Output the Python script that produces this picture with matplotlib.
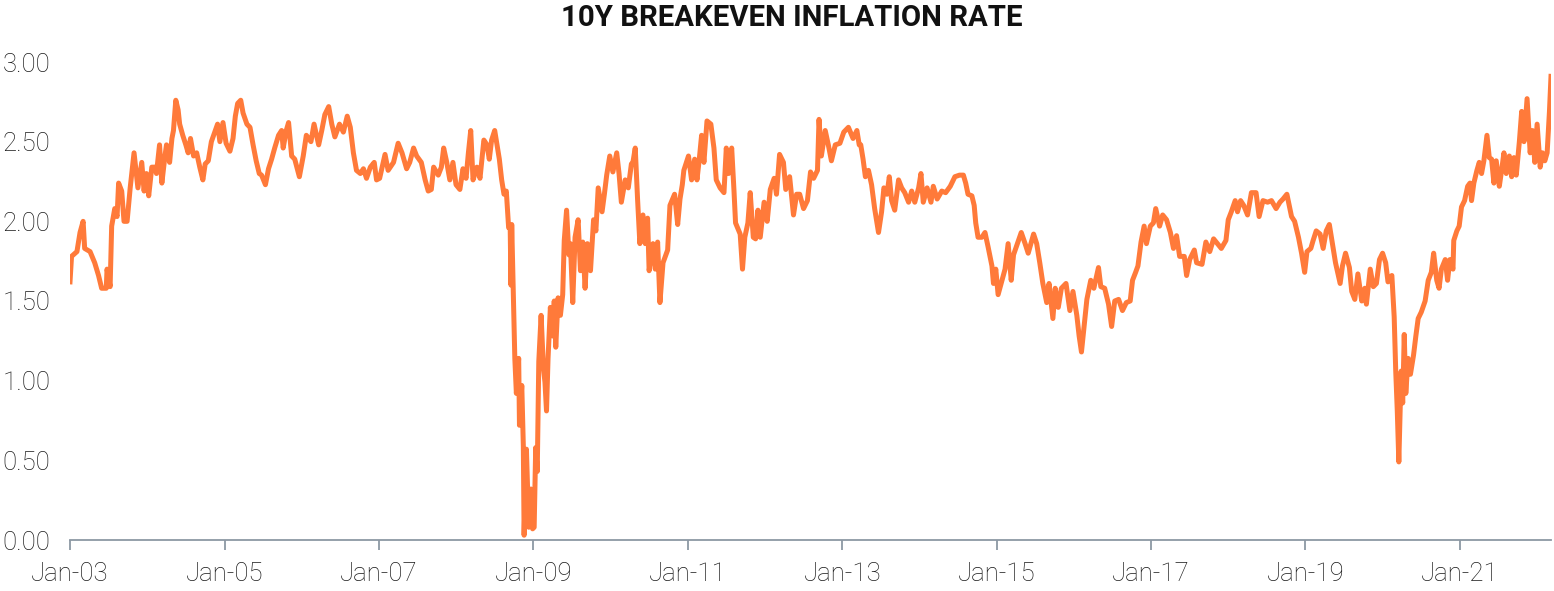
import matplotlib
matplotlib.use("Agg")
import matplotlib.pyplot as plt
import matplotlib.dates as mdates
import pandas as pd
from datetime import datetime

# dates as decimal years, values in %
years = [
    2003.00, 2003.02, 2003.09, 2003.13, 2003.17, 2003.19, 2003.26, 2003.32, 2003.37, 2003.41,
    2003.47, 2003.48, 2003.52, 2003.54, 2003.58, 2003.61, 2003.63, 2003.67, 2003.70, 2003.74,
    2003.78, 2003.83, 2003.86, 2003.88, 2003.93, 2003.96, 2003.99, 2004.02, 2004.06, 2004.10,
    2004.12, 2004.16, 2004.19, 2004.23, 2004.25, 2004.29, 2004.32, 2004.34, 2004.37, 2004.40,
    2004.42, 2004.46, 2004.50, 2004.53, 2004.56, 2004.60, 2004.64, 2004.68, 2004.72, 2004.75,
    2004.79, 2004.83, 2004.88, 2004.91, 2004.94, 2004.98, 2005.02, 2005.07, 2005.11, 2005.14,
    2005.17, 2005.21, 2005.24, 2005.29, 2005.33, 2005.37, 2005.41, 2005.45, 2005.48, 2005.53,
    2005.57, 2005.61, 2005.65, 2005.70, 2005.74, 2005.76, 2005.80, 2005.83, 2005.87, 2005.91,
    2005.97,
    2006.02, 2006.06, 2006.12, 2006.16, 2006.22, 2006.26, 2006.30, 2006.35, 2006.39, 2006.43,
    2006.49, 2006.54, 2006.59, 2006.63, 2006.67, 2006.71, 2006.76, 2006.80, 2006.84, 2006.89,
    2006.94, 2006.97, 2007.01, 2007.08, 2007.12, 2007.19, 2007.25, 2007.30, 2007.36, 2007.40,
    2007.45, 2007.49, 2007.55, 2007.60, 2007.64, 2007.68, 2007.71, 2007.77, 2007.81, 2007.84,
    2007.88, 2007.92, 2007.96, 2008.00, 2008.05, 2008.09, 2008.13, 2008.16, 2008.19, 2008.22,
    2008.27, 2008.31, 2008.36, 2008.40, 2008.43, 2008.46, 2008.50, 2008.53, 2008.56, 2008.59,
    2008.62, 2008.65, 2008.68, 2008.70, 2008.71, 2008.72, 2008.74, 2008.76, 2008.78, 2008.81,
    2008.82, 2008.85, 2008.87, 2008.88, 2008.91, 2008.94, 2008.97, 2008.99, 2009.01, 2009.03,
    2009.05, 2009.07, 2009.10, 2009.13, 2009.15, 2009.17, 2009.19, 2009.22, 2009.25, 2009.27,
    2009.29, 2009.32, 2009.35, 2009.38, 2009.40, 2009.43, 2009.46, 2009.48, 2009.51, 2009.54,
    2009.58,
    2009.61, 2009.64, 2009.67, 2009.70, 2009.74, 2009.78, 2009.81, 2009.84, 2009.89, 2009.92,
    2009.95, 2009.99, 2010.03, 2010.08, 2010.11, 2010.14, 2010.19, 2010.23, 2010.27, 2010.29,
    2010.32, 2010.35, 2010.38, 2010.42, 2010.45, 2010.48, 2010.50, 2010.55, 2010.58, 2010.61,
    2010.64, 2010.68, 2010.74, 2010.77, 2010.83, 2010.87, 2010.90, 2010.93, 2010.95, 2011.01,
    2011.05, 2011.09, 2011.12, 2011.15, 2011.18, 2011.21, 2011.25, 2011.30, 2011.34, 2011.37,
    2011.42, 2011.47, 2011.50, 2011.53, 2011.57, 2011.60, 2011.62, 2011.68, 2011.71, 2011.74,
    2011.78, 2011.81, 2011.85, 2011.88, 2011.91, 2011.94, 2011.99, 2012.03, 2012.07, 2012.12,
    2012.15, 2012.19, 2012.24, 2012.27, 2012.32, 2012.37, 2012.41, 2012.45, 2012.50, 2012.55,
    2012.59, 2012.63, 2012.68, 2012.70, 2012.73, 2012.78, 2012.82, 2012.86, 2012.91, 2012.97,
    2013.02, 2013.08, 2013.14, 2013.19, 2013.22,
    2013.24, 2013.27, 2013.30, 2013.34, 2013.38, 2013.42, 2013.47, 2013.51, 2013.54, 2013.58,
    2013.61, 2013.64, 2013.68, 2013.73, 2013.77, 2013.81, 2013.86, 2013.90, 2013.94, 2013.99,
    2014.02, 2014.05, 2014.10, 2014.15, 2014.18, 2014.23, 2014.29, 2014.34, 2014.40, 2014.46,
    2014.52, 2014.57, 2014.60, 2014.63, 2014.68, 2014.71, 2014.73, 2014.76, 2014.81, 2014.85,
    2014.89, 2014.94, 2014.96, 2014.99, 2015.02, 2015.07, 2015.11, 2015.15, 2015.19, 2015.22,
    2015.27, 2015.32, 2015.37, 2015.41, 2015.48, 2015.52, 2015.56, 2015.60, 2015.65, 2015.68,
    2015.73, 2015.76, 2015.80, 2015.84, 2015.90, 2015.95, 2015.99, 2016.04, 2016.07, 2016.10,
    2016.14, 2016.17, 2016.22, 2016.26, 2016.32, 2016.35, 2016.40, 2016.45, 2016.49, 2016.53,
    2016.58, 2016.63, 2016.68, 2016.73, 2016.76, 2016.80, 2016.83,
    2016.87, 2016.91, 2016.94, 2016.99, 2017.03, 2017.06, 2017.11, 2017.15, 2017.20, 2017.25,
    2017.29, 2017.33, 2017.37, 2017.43, 2017.46, 2017.50, 2017.56, 2017.59, 2017.66, 2017.71,
    2017.76, 2017.81, 2017.86, 2017.91, 2017.97, 2018.00, 2018.04, 2018.09, 2018.12, 2018.16,
    2018.20, 2018.25, 2018.30, 2018.36, 2018.40, 2018.45, 2018.51, 2018.56, 2018.62, 2018.67,
    2018.71, 2018.76, 2018.79, 2018.82, 2018.86, 2018.91, 2018.95, 2018.99, 2019.02, 2019.07,
    2019.10, 2019.14, 2019.19, 2019.23, 2019.27, 2019.31, 2019.35, 2019.39, 2019.45, 2019.48,
    2019.52, 2019.57, 2019.60, 2019.64, 2019.68, 2019.73, 2019.77, 2019.79, 2019.84, 2019.88,
    2019.92, 2019.96, 2020.00, 2020.04, 2020.07, 2020.12, 2020.15, 2020.17, 2020.19, 2020.21,
    2020.24, 2020.26, 2020.28, 2020.30, 2020.33, 2020.36, 2020.40, 2020.43, 2020.46,
    2020.50, 2020.55, 2020.59, 2020.63, 2020.66, 2020.70, 2020.73, 2020.76, 2020.81, 2020.84,
    2020.87, 2020.91, 2020.92, 2020.96, 2020.99, 2021.02, 2021.06, 2021.10, 2021.13, 2021.15,
    2021.18, 2021.22, 2021.25, 2021.28, 2021.31, 2021.35, 2021.38, 2021.41, 2021.44, 2021.47,
    2021.51, 2021.54, 2021.57, 2021.60, 2021.64, 2021.67, 2021.70, 2021.73, 2021.77, 2021.80,
    2021.83, 2021.87, 2021.91, 2021.94, 2021.97, 2022.00, 2022.04, 2022.07, 2022.10, 2022.13,
    2022.16, 2022.18,
]

breakeven = [
    1.62, 1.78, 1.81, 1.93, 2.00, 1.83, 1.81, 1.74, 1.66, 1.58,
    1.58, 1.70, 1.59, 1.97, 2.08, 2.03, 2.24, 2.19, 2.00, 2.00,
    2.21, 2.43, 2.30, 2.21, 2.37, 2.19, 2.30, 2.16, 2.34, 2.34,
    2.30, 2.48, 2.24, 2.41, 2.48, 2.37, 2.52, 2.57, 2.76, 2.70,
    2.61, 2.54, 2.48, 2.43, 2.52, 2.41, 2.43, 2.34, 2.26, 2.36,
    2.38, 2.50, 2.57, 2.61, 2.50, 2.62, 2.49, 2.44, 2.52, 2.66,
    2.74, 2.76, 2.68, 2.61, 2.59, 2.48, 2.38, 2.30, 2.29, 2.23,
    2.33, 2.39, 2.46, 2.54, 2.57, 2.46, 2.57, 2.62, 2.41, 2.39,
    2.28,
    2.41, 2.54, 2.50, 2.61, 2.48, 2.57, 2.67, 2.72, 2.61, 2.53,
    2.61, 2.56, 2.66, 2.59, 2.43, 2.32, 2.30, 2.33, 2.27, 2.34,
    2.37, 2.26, 2.27, 2.42, 2.32, 2.37, 2.49, 2.43, 2.33, 2.37,
    2.46, 2.41, 2.37, 2.26, 2.19, 2.20, 2.34, 2.29, 2.34, 2.46,
    2.37, 2.26, 2.37, 2.23, 2.20, 2.33, 2.27, 2.43, 2.57, 2.26,
    2.34, 2.27, 2.51, 2.48, 2.39, 2.51, 2.57, 2.48, 2.39, 2.26,
    2.17, 2.19, 1.96, 1.97, 1.60, 1.98, 1.55, 1.14, 0.92, 1.14,
    0.72, 0.97, 0.59, 0.03, 0.57, 0.08, 0.32, 0.07, 0.08, 0.58,
    0.43, 1.12, 1.41, 1.08, 0.99, 0.81, 1.14, 1.46, 1.28, 1.50,
    1.21, 1.52, 1.41, 1.54, 1.88, 2.07, 1.79, 1.86, 1.49, 1.90,
    2.01,
    1.69, 1.87, 1.58, 1.86, 1.69, 2.01, 1.94, 2.21, 2.06, 2.17,
    2.29, 2.41, 2.31, 2.43, 2.30, 2.12, 2.26, 2.21, 2.36, 2.37,
    2.46, 2.14, 1.86, 2.04, 1.86, 2.02, 1.69, 1.86, 1.70, 1.87,
    1.49, 1.74, 1.82, 2.10, 2.17, 1.98, 2.14, 2.23, 2.32, 2.41,
    2.26, 2.39, 2.26, 2.39, 2.54, 2.37, 2.63, 2.61, 2.46, 2.26,
    2.21, 2.18, 2.46, 2.30, 2.46, 2.19, 1.99, 1.92, 1.70, 1.90,
    1.99, 2.18, 1.90, 1.89, 2.07, 1.90, 2.12, 2.00, 2.20, 2.27,
    2.17, 2.42, 2.37, 2.20, 2.28, 2.04, 2.17, 2.17, 2.08, 2.13,
    2.31, 2.27, 2.32, 2.64, 2.41, 2.57, 2.48, 2.38, 2.48, 2.49,
    2.56, 2.59, 2.52, 2.57, 2.48,
    2.48, 2.39, 2.28, 2.32, 2.23, 2.08, 1.93, 2.06, 2.21, 2.17,
    2.28, 2.13, 2.07, 2.26, 2.21, 2.18, 2.12, 2.19, 2.12, 2.21,
    2.30, 2.12, 2.21, 2.12, 2.22, 2.14, 2.19, 2.18, 2.22, 2.28,
    2.29, 2.29, 2.24, 2.17, 2.16, 2.10, 1.99, 1.90, 1.90, 1.93,
    1.84, 1.72, 1.61, 1.70, 1.54, 1.63, 1.70, 1.86, 1.63, 1.79,
    1.86, 1.93, 1.86, 1.80, 1.92, 1.86, 1.74, 1.61, 1.49, 1.61,
    1.39, 1.58, 1.46, 1.58, 1.61, 1.44, 1.56, 1.41, 1.28, 1.18,
    1.37, 1.51, 1.63, 1.58, 1.71, 1.59, 1.58, 1.48, 1.34, 1.50,
    1.51, 1.44, 1.49, 1.50, 1.63, 1.68, 1.72,
    1.87, 1.97, 1.86, 1.97, 1.99, 2.08, 1.97, 2.04, 2.01, 1.93,
    1.83, 1.91, 1.78, 1.78, 1.66, 1.76, 1.82, 1.74, 1.73, 1.87,
    1.81, 1.89, 1.86, 1.83, 1.88, 2.01, 2.06, 2.13, 2.06, 2.13,
    2.10, 2.04, 2.18, 2.18, 2.03, 2.13, 2.12, 2.13, 2.08, 2.12,
    2.14, 2.17, 2.10, 2.03, 2.00, 1.90, 1.80, 1.68, 1.81, 1.83,
    1.88, 1.94, 1.92, 1.83, 1.94, 1.98, 1.86, 1.74, 1.61, 1.72,
    1.80, 1.71, 1.56, 1.51, 1.67, 1.50, 1.58, 1.48, 1.70, 1.59,
    1.61, 1.76, 1.80, 1.74, 1.62, 1.66, 1.40, 1.06, 0.81, 0.49,
    1.06, 0.86, 1.29, 0.92, 1.14, 1.04, 1.16, 1.28, 1.39,
    1.43, 1.50, 1.63, 1.68, 1.80, 1.63, 1.58, 1.70, 1.76, 1.63,
    1.76, 1.70, 1.88, 1.94, 1.97, 2.09, 2.13, 2.22, 2.24, 2.13,
    2.24, 2.32, 2.37, 2.30, 2.38, 2.54, 2.40, 2.39, 2.24, 2.38,
    2.22, 2.32, 2.43, 2.30, 2.41, 2.28, 2.40, 2.29, 2.50, 2.69,
    2.50, 2.77, 2.43, 2.57, 2.37, 2.61, 2.34, 2.43, 2.38, 2.43,
    2.69, 2.91,
]

tick_years = list(range(2003, 2022, 2))
y_ticks = [0.0, 0.5, 1.0, 1.5, 2.0, 2.5, 3.0]


def to_date(y):
    start = pd.Timestamp(int(y), 1, 1)
    length = pd.Timestamp(int(y) + 1, 1, 1) - start
    return start + (y - int(y)) * length


dates = [to_date(y) for y in years]

plt.rcParams['font.family'] = ['Roboto', 'DejaVu Sans']

fig = plt.figure(figsize=(15.54, 5.91), dpi=100)
ax = fig.add_axes([70 / 1554, 1 - 540 / 591, (1551 - 70) / 1554, (540 - 62) / 591])

ax.plot(dates, breakeven, color='#FF7A3A', lw=3.6, solid_joinstyle='round')

ax.set_ylim(0, 3)
ax.set_xlim(datetime(2003, 1, 1), dates[-1])
ax.set_yticks(y_ticks)
ax.set_yticklabels([f"{v:.2f}" for v in y_ticks])
ax.set_xticks([datetime(y, 1, 1) for y in tick_years])
ax.xaxis.set_major_formatter(mdates.DateFormatter('%b-%y'))

for s in ['top', 'right', 'left']:
    ax.spines[s].set_visible(False)
ax.spines['bottom'].set_color('#8C98A4')
ax.spines['bottom'].set_linewidth(1.3)

ax.tick_params(axis='x', length=7, width=1.3, color='#8C98A4', pad=9,
               labelsize=18.5, labelcolor='#1a1a1a')
ax.tick_params(axis='y', length=0, pad=14, labelsize=18.5, labelcolor='#1a1a1a')
for lab in ax.get_xticklabels() + ax.get_yticklabels():
    lab.set_fontweight('light')

fig.text(792 / 1554, 1 - 18 / 591, '10Y BREAKEVEN INFLATION RATE', ha='center', va='center',
         fontsize=21.2, fontweight='bold', color='#111111')

fig.savefig('out.png', dpi=100)
